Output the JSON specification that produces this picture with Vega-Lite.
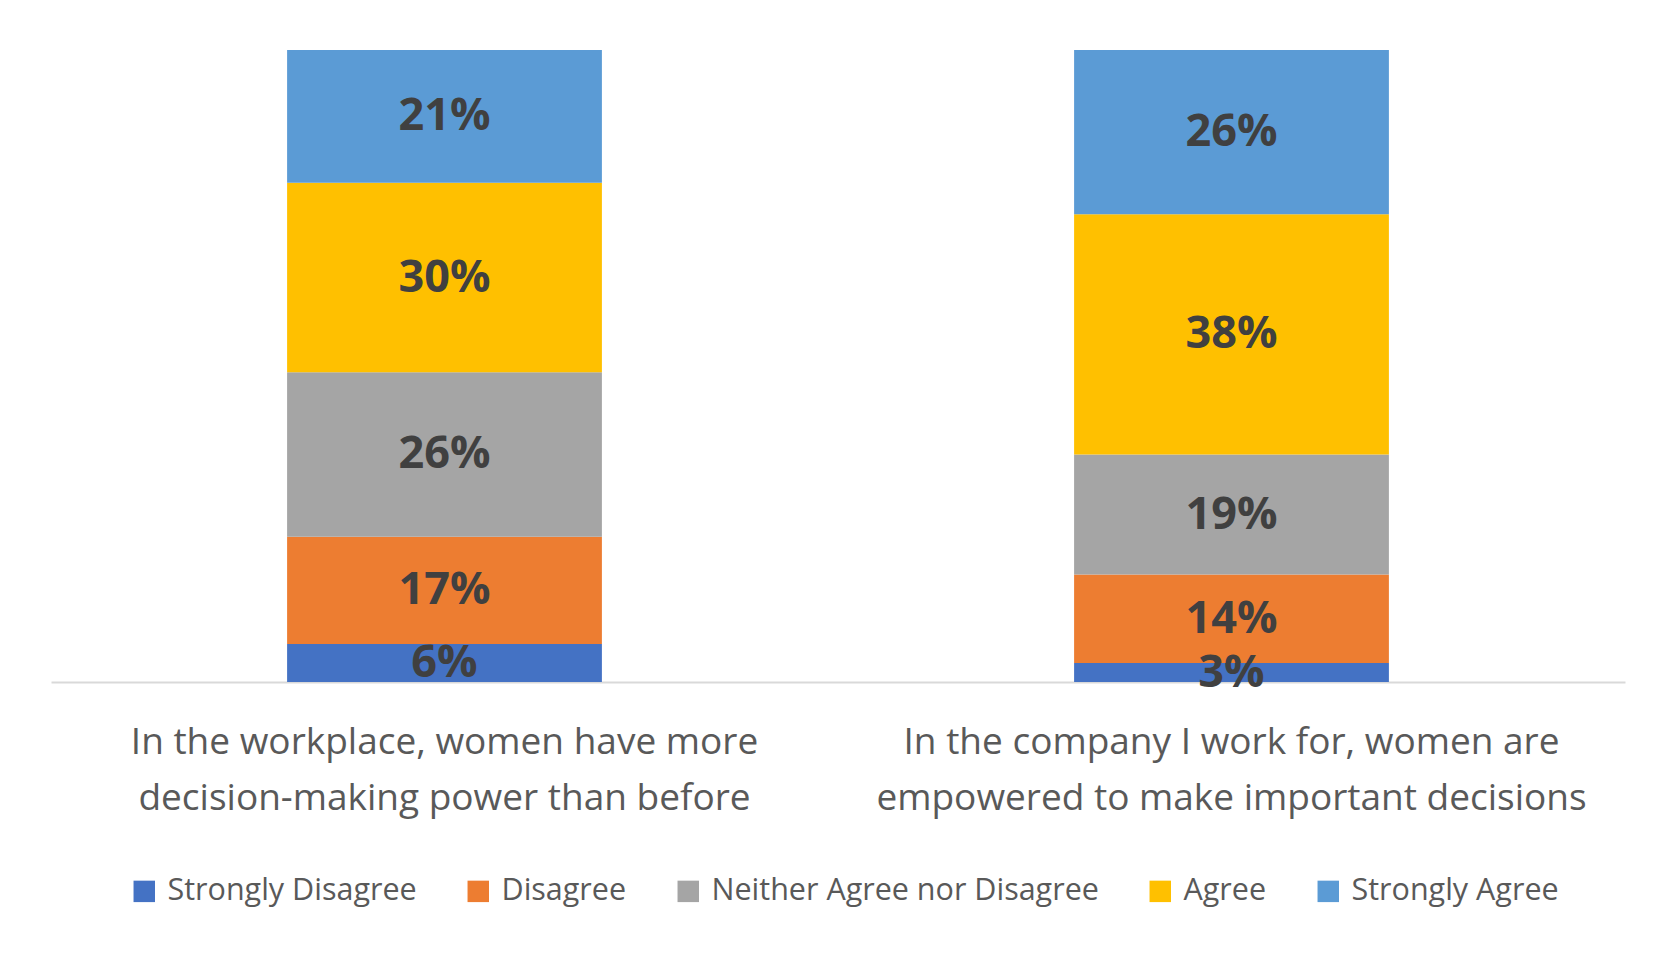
{
  "$schema": "https://vega.github.io/schema/vega-lite/v6.json",
  "description": "Stacked 100% bars of agreement with two statements about women's decision-making power",
  "autosize": {"type": "none"},
  "width": 1574,
  "height": 632,
  "padding": {"left": 51, "top": 50, "right": 52, "bottom": 273},
  "background": "white",
  "config": {"view": {"stroke": null}},
  "data": {
    "values": [
      {"question": "In the workplace, women have more\ndecision-making power than before", "response": "Strongly Disagree", "rank": 1, "pct": 6},
      {"question": "In the workplace, women have more\ndecision-making power than before", "response": "Disagree", "rank": 2, "pct": 17},
      {"question": "In the workplace, women have more\ndecision-making power than before", "response": "Neither Agree nor Disagree", "rank": 3, "pct": 26},
      {"question": "In the workplace, women have more\ndecision-making power than before", "response": "Agree", "rank": 4, "pct": 30},
      {"question": "In the workplace, women have more\ndecision-making power than before", "response": "Strongly Agree", "rank": 5, "pct": 21},
      {"question": "In the company I work for, women are\nempowered to make important decisions", "response": "Strongly Disagree", "rank": 1, "pct": 3},
      {"question": "In the company I work for, women are\nempowered to make important decisions", "response": "Disagree", "rank": 2, "pct": 14},
      {"question": "In the company I work for, women are\nempowered to make important decisions", "response": "Neither Agree nor Disagree", "rank": 3, "pct": 19},
      {"question": "In the company I work for, women are\nempowered to make important decisions", "response": "Agree", "rank": 4, "pct": 38},
      {"question": "In the company I work for, women are\nempowered to make important decisions", "response": "Strongly Agree", "rank": 5, "pct": 26}
    ]
  },
  "transform": [
    {"stack": "pct", "groupby": ["question"], "sort": [{"field": "rank"}], "as": ["y0", "y1"]},
    {"calculate": "(datum.y0 + datum.y1) / 2", "as": "ymid"},
    {"calculate": "datum.pct + '%'", "as": "label"}
  ],
  "encoding": {
    "x": {
      "field": "question",
      "type": "nominal",
      "sort": null,
      "title": null,
      "scale": {"paddingInner": 0.6, "paddingOuter": 0.3},
      "axis": {
        "labelAngle": 0,
        "labelExpr": "split(datum.value, '\\n')",
        "labelFont": "Open Sans",
        "labelFontSize": 37,
        "labelColor": "#595959",
        "labelLineHeight": 56,
        "labelPadding": 42,
        "labelLimit": 900,
        "ticks": false,
        "domainColor": "#d9d9d9",
        "domainWidth": 2
      }
    }
  },
  "layer": [
    {
      "mark": {"type": "bar"},
      "encoding": {
        "y": {"field": "y0", "type": "quantitative", "scale": {"domain": [0, 100]}, "axis": null},
        "y2": {"field": "y1"},
        "color": {
          "field": "response",
          "type": "nominal",
          "sort": ["Strongly Disagree", "Disagree", "Neither Agree nor Disagree", "Agree", "Strongly Agree"],
          "scale": {
            "domain": ["Strongly Disagree", "Disagree", "Neither Agree nor Disagree", "Agree", "Strongly Agree"],
            "range": ["#4472C4", "#ED7D31", "#A5A5A5", "#FFC000", "#5B9BD5"]
          },
          "legend": {
            "title": null,
            "orient": "none",
            "direction": "horizontal",
            "legendX": 78,
            "legendY": 826,
            "symbolType": "square",
            "symbolSize": 460,
            "symbolStrokeWidth": 0,
            "labelFont": "Open Sans",
            "labelFontSize": 30.5,
            "labelColor": "#595959",
            "labelOffset": 8,
            "labelLimit": 600,
            "columnPadding": 46
          }
        }
      }
    },
    {
      "mark": {"type": "text", "font": "Open Sans", "fontWeight": "bold", "fontSize": 45, "color": "#404040", "baseline": "middle"},
      "encoding": {
        "y": {"field": "ymid", "type": "quantitative"},
        "text": {"field": "label", "type": "nominal"},
        "detail": {"field": "response"}
      }
    }
  ]
}
